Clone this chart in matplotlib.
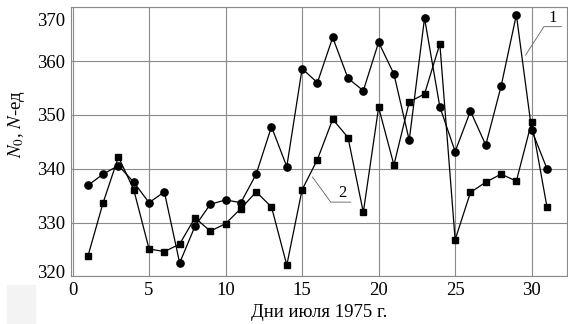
import numpy as np
import matplotlib
matplotlib.use("Agg")
import matplotlib.pyplot as plt
import matplotlib.transforms as mtransforms
from matplotlib.patches import Rectangle

plt.rcParams['font.family'] = ['Liberation Serif', 'DejaVu Serif']
plt.rcParams['mathtext.fontset'] = 'stix'

# days of July 1975
days = np.arange(1, 32)

# curve 1 (circles)
n0_values = [336.9, 339.0, 340.6, 337.5, 333.7, 335.7, 322.5, 329.3, 333.4, 334.2,
             333.7, 339.0, 347.8, 340.4, 358.6, 356.0, 364.4, 356.8, 354.5, 363.5,
             357.6, 345.3, 368.0, 351.5, 343.2, 350.7, 344.4, 355.3, 368.6, 347.2,
             340.0]

# curve 2 (squares)
n_values = [323.7, 333.7, 342.2, 336.1, 325.1, 324.6, 326.0, 330.9, 328.4, 329.8,
            332.6, 335.7, 332.9, 322.1, 336.1, 341.7, 349.2, 345.8, 331.9, 351.4,
            340.7, 352.4, 353.9, 363.2, 326.8, 335.6, 337.5, 339.0, 337.7, 348.7,
            332.9]

x_ticks = [0, 5, 10, 15, 20, 25, 30]
y_ticks = [320, 330, 340, 350, 360, 370]

fig = plt.figure(figsize=(5.68, 3.24), dpi=100)
ax = fig.add_axes([0.125, 0.147, 0.873, 0.8305])

ax.plot(days, n0_values, color='black', lw=0.9, marker='o', ms=5.2, zorder=3)
ax.plot(days, n_values, color='black', lw=0.9, marker='s', ms=4.2, zorder=3)

ax.set_xlim(-0.1, 32.3)
ax.set_ylim(320, 370)
ax.set_xticks(x_ticks)
ax.set_yticks(y_ticks)
ax.grid(True, color='#8a8a8a', lw=0.8)
ax.set_axisbelow(True)
ax.tick_params(length=0, labelsize=13.5, pad=4)
for s in ax.spines.values():
    s.set_color('#8a8a8a')
    s.set_linewidth(0.8)

# end labels pulled inwards, as in the original
ylabs = ax.get_yticklabels()
ylabs[-1].set_transform(ylabs[-1].get_transform() +
                        mtransforms.ScaledTranslation(0, -12.5 / 100, fig.dpi_scale_trans))
ylabs[0].set_transform(ylabs[0].get_transform() +
                       mtransforms.ScaledTranslation(0, 4.5 / 100, fig.dpi_scale_trans))

ax.set_xlabel('Дни июля 1975 г.', fontsize=13.5, labelpad=4)
ax.set_ylabel(r'$N_0$, $N$-ед', fontsize=13.5)
ax.yaxis.set_label_coords(-0.088, 0.565)

# leader lines with curve numbers
ax.plot([29.6, 30.8, 31.95], [361.1, 366.4, 366.4], color='#606060', lw=0.6,
        clip_on=False, zorder=4)
ax.text(31.35, 366.6, '1', fontsize=12, ha='center', va='bottom')
ax.plot([15.68, 16.87, 18.18], [338.45, 333.8, 333.8], color='#606060', lw=0.6,
        zorder=4)
ax.text(17.6, 334.0, '2', fontsize=12, ha='center', va='bottom')

fig.patches.append(Rectangle((7 / 568, 0), 28 / 568, 39 / 324, transform=fig.transFigure,
                             color='#f3f3f3', zorder=0))

fig.savefig('out.png', dpi=100)
